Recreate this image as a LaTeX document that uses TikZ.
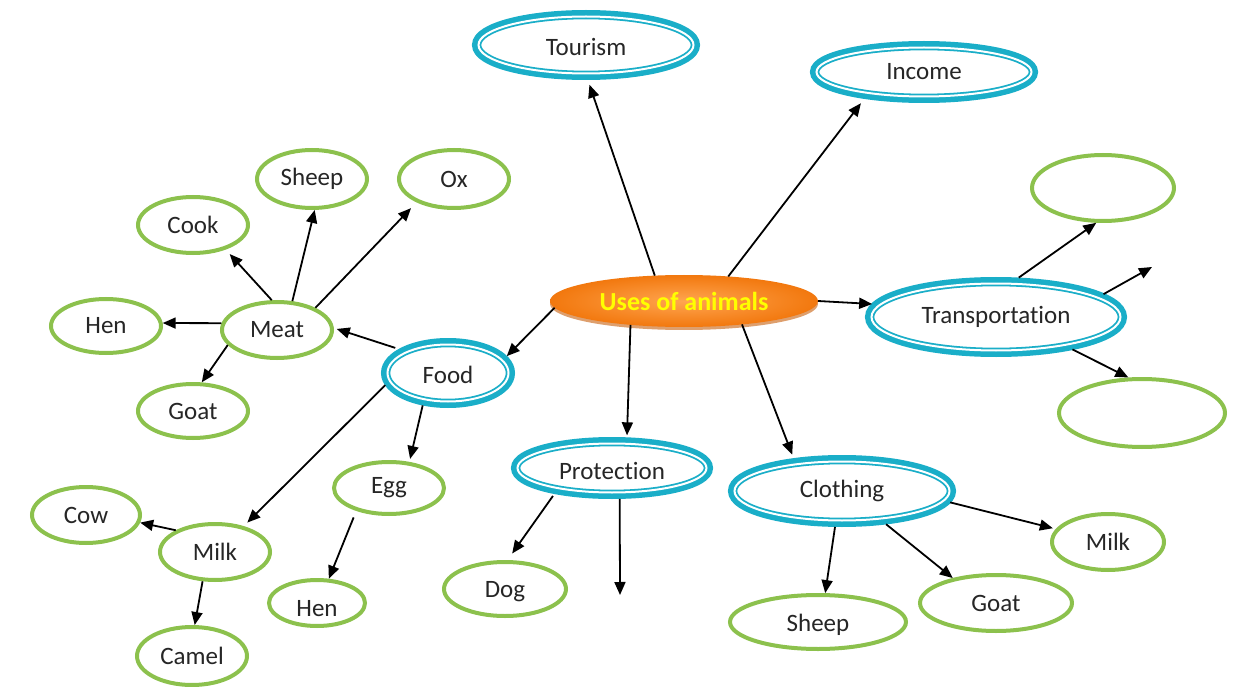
\documentclass[tikz,border=0pt]{standalone}
\usepackage{fontspec}
\setmainfont{Carlito}[Ligatures=NoCommon]
\usetikzlibrary{shapes.geometric,arrows.meta,shadows}

\definecolor{leafgreen}{RGB}{140,193,77}
\definecolor{hubblue}{RGB}{26,174,200}
\definecolor{txt}{RGB}{38,38,38}
\definecolor{orangeout}{RGB}{242,120,14}
\definecolor{orangein}{RGB}{255,165,80}
\definecolor{orangerim}{RGB}{200,95,12}
\definecolor{titleyellow}{RGB}{255,255,0}

\newcommand\lbl{\fontsize{25}{30}\selectfont}
% text set with its baseline a given distance below the node centre
\newcommand\low[2]{\raisebox{-#1pt}[0pt][0pt]{#2}}

\tikzset{
  leaf/.style={ellipse, draw=leafgreen, line width=4pt, fill=white,
    inner sep=0pt, outer sep=2pt, font=\lbl, text=txt},
  hub/.style={ellipse, inner sep=0pt, outer sep=6.5pt, fill=white,
    preaction={draw=hubblue, line width=13pt},
    postaction={draw=hubblue, double=white, double distance=2pt, line width=1.8pt},
    font=\lbl, text=txt},
  centre/.style={ellipse, inner sep=0pt, outer sep=0pt,
    inner color=orangein, outer color=orangeout,
    drop shadow={shadow xshift=0pt, shadow yshift=-3pt, opacity=0.6, fill=orangerim},
    font=\fontsize{26}{30}\selectfont\bfseries, text=titleyellow},
  arr/.style={-{Triangle[length=13pt,width=11pt]}, line width=1.8pt, black}
}

\begin{document}
\begin{tikzpicture}[x=1pt,y=-1pt]
\useasboundingbox (0,0) rectangle (1240,687);

% central topic
\node[centre, minimum width=268, minimum height=52] (c) at (684,301) {Uses of animals};

% main branches
\node[hub, minimum width=215, minimum height=57] (tour) at (586,45) {\low{11}{Tourism}};
\node[hub, minimum width=215, minimum height=49] (inc) at (924,72) {Income};
\node[hub, minimum width=249, minimum height=67] (tra) at (996,317) {Transportation};
\node[hub, minimum width=121, minimum height=57] (food) at (448,373) {\low{10}{Food}};
\node[hub, minimum width=189, minimum height=49] (prot) at (612,468) {\low{11}{Protection}};
\node[hub, minimum width=215, minimum height=59] (clo) at (842,491) {Clothing};

% food sub-branches
\node[leaf, minimum width=110, minimum height=56] (meat) at (277,330) {Meat};
\node[leaf, minimum width=110, minimum height=54] (henl) at (106,326) {Hen};
\node[leaf, minimum width=110, minimum height=54] (goatl) at (193,411) {Goat};
\node[leaf, minimum width=110, minimum height=56] (cook) at (193,225) {Cook};
\node[leaf, minimum width=110, minimum height=58] (sheept) at (312,179) {Sheep};
\node[leaf, minimum width=110, minimum height=58] (ox) at (454,179) {Ox};
\node[leaf, minimum width=110, minimum height=52] (egg) at (389,488) {Egg};
\node[leaf, minimum width=96, minimum height=46] (henb) at (317,603) {\low{13}{Hen}};
\node[leaf, minimum width=110, minimum height=56] (milkl) at (215,552) {Milk};
\node[leaf, minimum width=108, minimum height=56] (cow) at (86,515) {Cow};
\node[leaf, minimum width=110, minimum height=58] (camel) at (192,656) {Camel};

% protection, clothing, transportation leaves
\node[leaf, minimum width=122, minimum height=54] (dog) at (505,589) {\low{8}{Dog}};
\node[leaf, minimum width=176, minimum height=54] (sheepb) at (818,622) {\low{9}{Sheep}};
\node[leaf, minimum width=152, minimum height=56] (goatr) at (996,603) {Goat};
\node[leaf, minimum width=112, minimum height=56] (milkr) at (1108,542) {Milk};
\node[leaf, minimum width=142, minimum height=66] (et) at (1103,188) {};
\node[leaf, minimum width=166, minimum height=68] (eb) at (1142,413) {};

% open arrow ends
\coordinate (tfree) at (1152,267);
\coordinate (pfree) at (620,595);

% connectors from the centre
\draw[arr, shorten >=5pt] (c.139) -- (tour.-87);
\draw[arr, shorten >=6pt] (c.29) -- (inc.-156);
\draw[arr] (c.0) -- (tra.174);
\draw[arr] (c.183) -- (food.16);
\draw[arr, shorten >=2pt] (c.204) -- (prot.64);
\draw[arr, shorten >=4pt] (c.-22) -- (clo.146);

% transportation
\draw[arr] (tra.60) -- (et.-101);
\draw[arr] (tra.12) -- (tfree);
\draw[arr] (tra.-23) -- (eb.111);

% food
\draw[arr, shorten <=4pt, shorten >=3pt] (food.154) -- (meat.2);
\draw[arr, shorten >=3pt] (food.-128) -- (egg.52);
\draw[arr, shorten >=5pt] (food.-169) -- (milkl.42);

% meat
\draw[arr] (meat.173) -- (henl.3);
\draw[arr] (meat.-163) -- (goatl.73);
\draw[arr, shorten >=6pt] (meat.100) -- (cook.-37);
\draw[arr] (meat.62) -- (sheept.-85);
\draw[arr, shorten >=8pt] (meat.30) -- (ox.-148);

% egg and milk
\draw[arr, shorten <=7pt] (egg.-145) -- (henb.64);
\draw[arr] (milkl.151) -- (cow.-8);
\draw[arr] (milkl.-113) -- (camel.85);

% protection
\draw[arr, shorten <=3pt, shorten >=8pt] (prot.-156) -- (dog.85);
\draw[arr] (prot.-76) -- (pfree);

% clothing
\draw[arr] (clo.-101) -- (sheepb.76);
\draw[arr] (clo.-37) -- (goatr.150);
\draw[arr, shorten >=3pt] (clo.-6) -- (milkr.166);
\end{tikzpicture}
\end{document}
